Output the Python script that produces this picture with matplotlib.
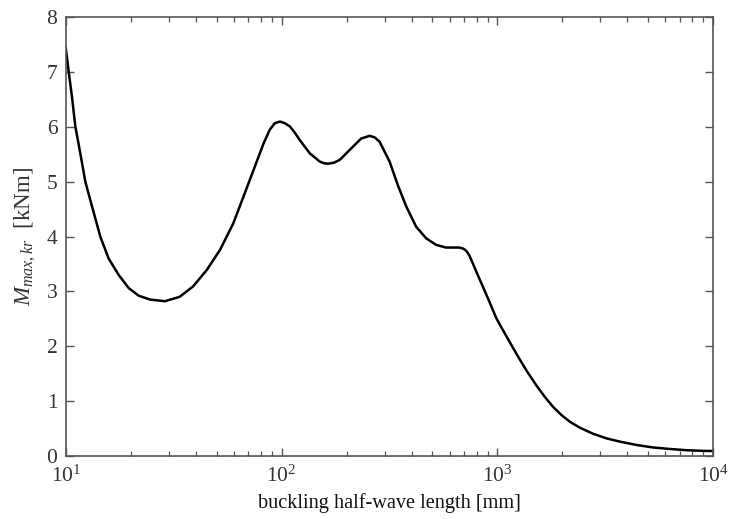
import matplotlib
matplotlib.use("Agg")
import matplotlib.pyplot as plt
from matplotlib.ticker import LogLocator

# buckling half-wave length [mm] vs critical moment [kNm]
half_wave = [10.0, 10.32, 10.69, 11.08, 11.68, 12.33, 13.24, 14.46, 15.8, 17.59,
             19.58, 21.79, 24.6, 28.8, 33.7, 38.9, 45.0, 51.9, 59.7, 66.6,
             74.2, 82.5, 88.1, 93.0, 98.3, 103.5, 109.3, 115.0, 121.5, 135.1, 150.2,
             157.0, 164.0, 175.0, 185.8, 210.2, 233.6, 256.0, 270.0, 284.6, 316.4,
             345.4, 378.0, 420.0, 467.0, 519.0, 577.0, 620.0, 666.0, 695.0, 717.0,
             740.0, 769.0, 810.0, 855.0, 920.0, 985.0, 1023.0, 1104.0, 1184.0,
             1267.0, 1365.0, 1516.0, 1660.0, 1811.0, 1982.0, 2164.0, 2411.0,
             2774.0, 3206.0, 3706.0, 4416.0, 5250.0, 6310.0, 7500.0, 8970.0, 10000.0]
m_kr = [7.45, 7.01, 6.55, 6.01, 5.52, 5.00, 4.55, 4.00, 3.60, 3.30,
        3.06, 2.92, 2.85, 2.82, 2.90, 3.09, 3.39, 3.76, 4.24, 4.73,
        5.22, 5.70, 5.95, 6.07, 6.10, 6.07, 6.01, 5.90, 5.76, 5.52, 5.37,
        5.34, 5.33, 5.35, 5.40, 5.61, 5.79, 5.84, 5.81, 5.73, 5.37,
        4.94, 4.55, 4.18, 3.97, 3.85, 3.80, 3.80, 3.80, 3.78, 3.74,
        3.66, 3.51, 3.30, 3.09, 2.80, 2.52, 2.40, 2.17, 1.96,
        1.76, 1.55, 1.28, 1.07, 0.89, 0.74, 0.62, 0.51,
        0.40, 0.315, 0.255, 0.195, 0.15, 0.122, 0.10, 0.088, 0.085]

x_ticks = [10, 100, 1000, 10000]
y_ticks = [0, 1, 2, 3, 4, 5, 6, 7, 8]

plt.rcParams['font.family'] = ['Liberation Serif', 'DejaVu Serif']
plt.rcParams['mathtext.fontset'] = 'custom'
plt.rcParams['mathtext.rm'] = 'Liberation Serif'
plt.rcParams['mathtext.it'] = 'Liberation Serif:italic'

fig = plt.figure(figsize=(7.32, 5.19), dpi=100)
ax = fig.add_axes([0.0898, 0.122, 0.8847, 0.8443])

ax.plot(half_wave, m_kr, color="black", linewidth=1.8,
        solid_joinstyle="round", solid_capstyle="round")

ax.set_xscale("log")
ax.set_xlim(10, 10000)
ax.set_ylim(0, 8)
ax.set_xticks(x_ticks)
ax.set_yticks(y_ticks)
ax.xaxis.set_minor_locator(LogLocator(base=10, subs=range(2, 10)))

edge = "#555555"
for s in ax.spines.values():
    s.set_color(edge)
    s.set_linewidth(1.2)
ax.tick_params(which="both", direction="in", top=True, right=True,
               color=edge, labelcolor="#333333", labelsize=15.5)
ax.tick_params(which="major", length=6, width=1.0)
ax.tick_params(which="minor", length=3.5, width=0.9)
ax.tick_params(axis="x", pad=7)
ax.tick_params(axis="y", pad=6)

ax.set_xlabel("buckling half-wave length [mm]", fontsize=14.6, color="#111111", labelpad=5)
ax.set_ylabel(r"$M_{max,kr}$  [kNm]", fontsize=16.5, color="#333333", labelpad=6)

fig.savefig("out.png", dpi=100)
